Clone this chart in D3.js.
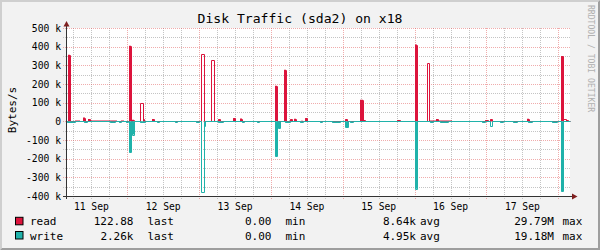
<!DOCTYPE html>
<html><head><meta charset="utf-8">
<script src="https://cdn.jsdelivr.net/npm/d3@7/dist/d3.min.js"></script>
<style>
body{margin:0;background:#f2f2f2}
svg{display:block}
text{font-family:"DejaVu Sans Mono",monospace;fill:#000}
</style>
</head><body>
<svg id="c" width="600" height="250"></svg>
<script>
// ---------- data (hours since 11 Sep 00:00, bytes/s) ----------
const chartTitle = "Disk Traffic (sda2) on x18";
const unitLabel = "Bytes/s";
const watermark = "RRDTOOL / TOBI OETIKER";
const yTickValues = [-400000,-300000,-200000,-100000,0,100000,200000,300000,400000,500000];
const yTickLabels = ["-400 k","-300 k","-200 k","-100 k","0","100 k","200 k","300 k","400 k","500 k"];
const dayLabelDays = [11,12,13,14,15,16,17];
const dayLabels = ["11 Sep","12 Sep","13 Sep","14 Sep","15 Sep","16 Sep","17 Sep"];
const timeRange = [3.52, 171.91];

// filled segments: [start h, end h, value]  (average == max)
const readSpikes = [
  [4.2,4.85,357000],[6.55,8.2,4000],[9.2,9.85,20000],[10.85,11.5,13000],[11.5,20.6,4000],
  [21.9,22.9,4000],[24.55,25.2,405000],[25.55,26.2,8000],[29.15,29.6,12000],[32.25,32.9,12000],
  [54.3,55.0,10000],[59.3,60.0,16000],[61.65,62.3,15000],[73.35,74.0,191000],[76.35,77.0,277000],
  [78.4,79.0,10000],[79.7,80.4,14000],[82.0,82.7,3000],[83.4,84.0,16000],[96.7,97.4,10000],
  [101.7,102.6,115000],[102.6,103.4,5000],[114.1,115.1,5000],[120.0,120.7,411000],
  [124.9,127.0,4000],[127.0,127.7,12000],[127.7,132.5,4000],[143.5,144.5,5000],
  [145.2,145.8,10000],[157.5,158.2,14000],[168.9,169.6,348000],[170.5,171.3,5000]
];
// peaks seen only in the max line (average near zero)
const readPeaks = [
  [28.25,29.15,98000],[48.6,49.5,361000],[51.95,52.85,329000],[124.0,124.9,312000],[169.6,170.5,14000]
];
const writeSpikes = [
  [3.85,6.5,6000],[9.55,10.5,6000],[18.2,19.9,6000],[21.25,21.9,6000],[23.55,24.2,6000],
  [24.55,25.2,166000],[25.55,26.2,71000],[28.25,29.9,6000],[33.9,34.6,6000],[39.95,40.6,6000],
  [46.95,47.95,6000],[54.3,55.95,6000],[62.3,63.0,6000],[67.35,68.0,6000],[73.35,74.0,187000],
  [74.35,75.0,37000],[76.7,78.35,6000],[81.7,82.7,6000],[88.4,89.05,6000],[92.4,95.1,6000],
  [96.7,97.6,30000],[98.4,99.4,6000],[120.0,120.7,361000],[125.1,126.1,6000],[128.5,131.2,6000],
  [142.5,143.5,6000],[148.5,149.5,6000],[152.9,154.2,6000],[157.9,159.2,6000],[165.9,167.6,6000],
  [168.9,169.6,375000]
];
const writePeaks = [
  [48.6,49.5,378000],[49.5,49.95,27000],[145.2,146.0,25000]
];
const legendRows = [
  {name:"read",  last:"122.88", min:"0.00", avg:"8.64k", max:"29.79M"},
  {name:"write", last:"2.26k",  min:"0.00", avg:"4.95k", max:"19.18M"}
];

// ---------- drawing ----------
const READ = "#dc143c", WRITE = "#20b2aa";
const svg = d3.select("#c");
const W = 600, Hh = 250;
const base = Date.UTC(2008, 8, 11);
const T = h => new Date(base + h * 3600e3);

const x = d3.scaleUtc().domain([T(timeRange[0]), T(timeRange[1])]).range([66, 570]);
const y = d3.scaleLinear().domain([-400000, 500000]).range([196, 28]);

// background + shading frame
svg.append("rect").attr("width", W).attr("height", Hh).attr("fill", "#f2f2f2");
svg.append("path").attr("d", `M0,0H${W}L${W-2},2H2V${Hh-2}L0,${Hh}Z`).attr("fill", "#cfcfcf");
svg.append("path").attr("d", `M${W},0V${Hh}H0L2,${Hh-2}H${W-2}V2Z`).attr("fill", "#9e9e9e");
svg.append("rect").attr("x", 66).attr("y", 28).attr("width", 504).attr("height", 168).attr("fill", "#fff");

// grid
const g = svg.append("g").attr("shape-rendering", "crispEdges");
const minorY = d3.range(-350000, 500000, 100000);
const minorX = d3.utcHour.every(6).range(T(timeRange[0]), T(timeRange[1])).filter(d => d.getUTCHours() !== 0);
const majorX = d3.utcDay.range(T(timeRange[0]), T(timeRange[1]));
const GRID = "#c4c4c4", MGRID = "rgba(226,90,90,0.5)";
g.selectAll(".hy").data(minorY).join("line")
  .attr("x1", 63).attr("x2", 570).attr("y1", d => Math.round(y(d)) + 0.5).attr("y2", d => Math.round(y(d)) + 0.5)
  .attr("stroke", GRID).attr("stroke-dasharray", "1,1");
g.selectAll(".hx").data(minorX).join("line")
  .attr("y1", 28).attr("y2", 199).attr("x1", d => Math.round(x(d)) + 0.5).attr("x2", d => Math.round(x(d)) + 0.5)
  .attr("stroke", GRID).attr("stroke-dasharray", "1,1");
g.selectAll(".my").data(yTickValues).join("line")
  .attr("x1", 63).attr("x2", 570).attr("y1", d => Math.round(y(d)) + 0.5).attr("y2", d => Math.round(y(d)) + 0.5)
  .attr("stroke", MGRID).attr("stroke-dasharray", "1,1");
g.selectAll(".mx").data(majorX).join("line")
  .attr("y1", 28).attr("y2", 199).attr("x1", d => Math.round(x(d)) + 0.5).attr("x2", d => Math.round(x(d)) + 0.5)
  .attr("stroke", MGRID).attr("stroke-dasharray", "1,1");

// series builders
function steps(segs) {
  const s = segs.slice().sort((a, b) => a[0] - b[0]);
  const pts = [[timeRange[0], 0]];
  s.forEach(([a, b, v]) => { pts.push([a, v]); pts.push([b, 0]); });
  pts.push([timeRange[1], 0]);
  return pts;
}
const readAvg = steps(readSpikes);
const readMax = steps(readSpikes.concat(readPeaks));
const writeAvg = steps(writeSpikes);
const writeMax = steps(writeSpikes.concat(writePeaks));

const px = h => Math.round(x(T(h)));
const area = sign => d3.area().curve(d3.curveStepAfter)
  .x(d => px(d[0])).y0(y(0)).y1(d => y(sign * d[1]));
const line = sign => d3.line().curve(d3.curveStepAfter)
  .x(d => px(d[0]) + 0.5).y(d => Math.round(y(sign * d[1])) + 0.5);

const data = svg.append("g");
data.append("path").attr("d", area(1)(readAvg)).attr("fill", READ);
data.append("path").attr("d", line(1)(readMax)).attr("fill", "none").attr("stroke", READ).attr("stroke-width", 1);
data.append("path").attr("d", area(-1)(writeAvg)).attr("fill", WRITE);
data.append("path").attr("d", line(-1)(writeMax)).attr("fill", "none").attr("stroke", WRITE).attr("stroke-width", 1);

// axes
const ax = svg.append("g").attr("shape-rendering", "crispEdges");
ax.append("line").attr("x1", 66.5).attr("x2", 66.5).attr("y1", 199).attr("y2", 25).attr("stroke", "#333");
ax.append("line").attr("x1", 63).attr("x2", 574).attr("y1", 196.5).attr("y2", 196.5).attr("stroke", "#333");
svg.append("path").attr("d", "M66.5,21L63.5,26.5L69.5,26.5Z").attr("fill", "#7f1f1f");
svg.append("path").attr("d", "M577.5,196.5L572,193.5L572,199.5Z").attr("fill", "#7f1f1f");

// y tick labels
svg.selectAll(".yl").data(yTickValues).join("text")
  .attr("x", 61).attr("y", d => y(d) + 3.6).attr("text-anchor", "end")
  .style("font-size", "9.7px").text((d, i) => yTickLabels[i]);

// x tick labels (noon of each day)
svg.selectAll(".xl").data(dayLabelDays).join("text")
  .attr("x", d => x(T((d - 11) * 24 + 12))).attr("y", 209.5).attr("text-anchor", "middle")
  .style("font-size", "9.7px").text((d, i) => dayLabels[i]);

// title
svg.append("text").attr("x", 300).attr("y", 23.3).attr("text-anchor", "middle")
  .style("font-size", "13.1px").text(chartTitle);

// unit label
svg.append("text").attr("transform", "translate(16,110) rotate(-90)").attr("text-anchor", "middle")
  .style("font-size", "11px").text(unitLabel);

// watermark
svg.append("text").attr("transform", "translate(587.5,5) rotate(90)").attr("text-anchor", "start")
  .style("font-size", "8.1px").style("fill", "#b0b0b0").text(watermark);

// legend
const colors = [READ, WRITE];
legendRows.forEach((r, i) => {
  const by = 225.3 + i * 14.2;
  svg.append("rect").attr("x", 15.5).attr("y", by - 8).attr("width", 7.5).attr("height", 7.5)
    .attr("fill", colors[i]).attr("stroke", "#000").attr("stroke-width", 1);
  const t = (xx, s, anchor) => svg.append("text").attr("x", xx).attr("y", by)
    .attr("text-anchor", anchor).style("font-size", "11px").text(s);
  t(30, r.name, "start");
  t(133.5, r.last, "end");
  t(147.5, "last", "start");
  t(271.5, r.min, "end");
  t(285.5, "min", "start");
  t(416, r.avg, "end");
  t(420, "avg", "start");
  t(554, r.max, "end");
  t(562.5, "max", "start");
});
</script>
</body></html>
